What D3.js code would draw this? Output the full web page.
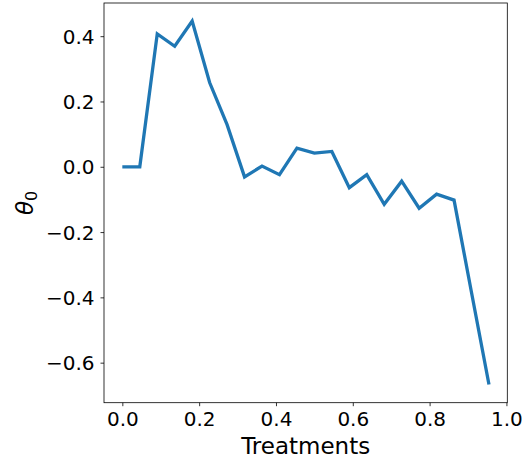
<!DOCTYPE html>
<html>
<head>
<meta charset="utf-8">
<script src="https://cdn.jsdelivr.net/npm/d3@7"></script>
<style>
  body { margin: 0; background: #fff; }
  svg text { font-family: "DejaVu Sans", sans-serif; fill: #000; }
</style>
</head>
<body>
<div id="chart"></div>
<script>
// Treatments: 22 points, i/22
const treatments = d3.range(22).map(i => i / 22);
const theta0 = [0.0, 0.0, 0.407, 0.369, 0.446, 0.258, 0.129, -0.031, 0.002, -0.024, 0.057,
                0.042, 0.047, -0.064, -0.024, -0.115, -0.044, -0.127, -0.084, -0.102, -0.385, -0.667];
const xTicks = [0.0, 0.2, 0.4, 0.6, 0.8, 1.0];
const yTicks = [-0.6, -0.4, -0.2, 0.0, 0.2, 0.4];

const svgWidth = 522;
const svgHeight = 461;
const plotLeft = 104, plotRight = 507.3, plotTop = 3, plotBottom = 402.7;

const svg = d3.select("#chart")
    .append("svg")
    .attr("width", svgWidth)
    .attr("height", svgHeight);

// matplotlib-style 5% margins
const xExt = d3.extent(treatments), yExt = d3.extent(theta0);
const xPad = (xExt[1] - xExt[0]) * 0.05, yPad = (yExt[1] - yExt[0]) * 0.05;

const xScale = d3.scaleLinear()
    .domain([xExt[0] - xPad, xExt[1] + xPad])
    .range([plotLeft, plotRight]);

const yScale = d3.scaleLinear()
    .domain([yExt[0] - yPad, yExt[1] + yPad])
    .range([plotBottom, plotTop]);

const fmt = d3.format(".1f");

const xAxis = svg.append("g")
    .attr("transform", `translate(0, ${plotBottom})`)
    .call(d3.axisBottom(xScale).tickValues(xTicks).tickFormat(fmt).tickSize(3.5).tickPadding(6));

const yAxis = svg.append("g")
    .attr("transform", `translate(${plotLeft}, 0)`)
    .call(d3.axisLeft(yScale).tickValues(yTicks).tickFormat(fmt).tickSize(3.5).tickPadding(6));

[xAxis, yAxis].forEach(g => {
    g.select(".domain").remove();
    g.selectAll(".tick line").attr("stroke", "#000").attr("stroke-width", 0.8);
    g.selectAll(".tick text").attr("font-size", 20).attr("font-family", "DejaVu Sans").attr("fill", "#000");
});
yAxis.selectAll(".tick text").attr("dy", "0.35em");

// frame
svg.append("rect")
    .attr("x", plotLeft).attr("y", plotTop)
    .attr("width", plotRight - plotLeft).attr("height", plotBottom - plotTop)
    .attr("fill", "none").attr("stroke", "#000").attr("stroke-width", 0.8);

const line = d3.line()
    .x((d, i) => xScale(treatments[i]))
    .y(d => yScale(d));

svg.append("path")
    .datum(theta0)
    .attr("d", line)
    .attr("fill", "none")
    .attr("stroke", "#1f77b4")
    .attr("stroke-width", 3.3)
    .attr("stroke-linejoin", "miter");

svg.append("text")
    .attr("x", (plotLeft + plotRight) / 2)
    .attr("y", 454)
    .attr("text-anchor", "middle")
    .attr("font-size", 23)
    .text("Treatments");

const yLabel = svg.append("text")
    .attr("transform", `translate(33, ${(plotTop + plotBottom) / 2}) rotate(-90)`)
    .attr("text-anchor", "middle")
    .attr("font-size", 23);
yLabel.append("tspan").attr("font-style", "italic").text("θ");
yLabel.append("tspan").attr("font-size", 16).attr("dy", 4).text("0");
</script>
</body>
</html>
